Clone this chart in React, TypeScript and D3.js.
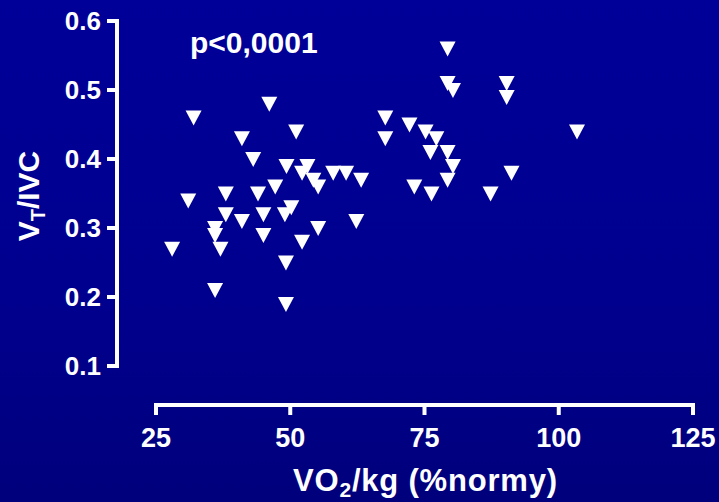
import React from "react";
import * as d3 from "d3";

const W = 719;
const H = 502;

// VO2/kg (%normy) values
const xValues = [
  28, 31, 32, 36, 36, 36, 37, 38, 38, 41, 41, 43.1, 44, 45, 45, 46.1, 47.2,
  49.3, 49, 49.2, 49.2, 50.2, 51.1, 52.2, 52.2, 53.2, 54.3, 55.2, 55.2, 58,
  60.4, 62.3, 63.2, 67.7, 67.7, 72.2, 73.1, 75.2, 76.1, 76.3, 77.2, 79.3,
  79.3, 80.3, 79.3, 80.3, 79.3, 87.3, 90.3, 90.3, 91.2, 103.4,
];
// VT/IVC values
const yValues = [
  0.27, 0.34, 0.46, 0.3, 0.29, 0.21, 0.27, 0.35, 0.32, 0.43, 0.31, 0.4, 0.35,
  0.32, 0.29, 0.48, 0.36, 0.39, 0.32, 0.25, 0.19, 0.33, 0.44, 0.38, 0.28,
  0.39, 0.37, 0.36, 0.3, 0.38, 0.38, 0.31, 0.37, 0.46, 0.43, 0.45, 0.36,
  0.44, 0.41, 0.35, 0.43, 0.56, 0.51, 0.5, 0.41, 0.39, 0.37, 0.35, 0.51,
  0.49, 0.38, 0.44,
];

const xTicks = [25, 50, 75, 100, 125];
const yTicks = [0.1, 0.2, 0.3, 0.4, 0.5, 0.6];
const pLabel = "p<0,0001";

export default function App() {
  const x = d3.scaleLinear().domain([25, 125]).range([156, 693]);
  const y = d3.scaleLinear().domain([0.1, 0.6]).range([366, 21]);
  const font = "'Liberation Sans', Arial, sans-serif";
  const axisX = 117;
  const axisY = 405;
  const tri = (cx: number, cy: number) =>
    `M${cx - 8},${cy - 7}L${cx + 8},${cy - 7}L${cx},${cy + 8}Z`;

  return (
    <svg
      width={W}
      height={H}
      style={{ position: "fixed", left: 0, top: 0, display: "block" }}
      fontFamily={font}
      fontWeight="bold"
    >
      <defs>
        <linearGradient id="bg" x1="0" y1="0" x2="0" y2="1">
          <stop offset="0" stopColor="#000098" />
          <stop offset="0.6" stopColor="#00008e" />
          <stop offset="1" stopColor="#00007c" />
        </linearGradient>
      </defs>
      <rect x={0} y={0} width={W} height={H} fill="url(#bg)" />

      {/* Y axis */}
      <line
        x1={axisX}
        x2={axisX}
        y1={y(0.6) - 2}
        y2={y(0.1) + 2}
        stroke="#fff"
        strokeWidth={4}
      />
      {yTicks.map((t) => (
        <g key={t}>
          <line
            x1={axisX - 10}
            x2={axisX}
            y1={y(t)}
            y2={y(t)}
            stroke="#fff"
            strokeWidth={4}
          />
          <text
            x={101}
            y={y(t)}
            dy="0.36em"
            textAnchor="end"
            fill="#fff"
            fontSize={26}
          >
            {t.toFixed(1)}
          </text>
        </g>
      ))}

      {/* X axis */}
      <line
        x1={x(25) - 2}
        x2={x(125) + 2}
        y1={axisY}
        y2={axisY}
        stroke="#fff"
        strokeWidth={4}
      />
      {xTicks.map((t) => (
        <g key={t}>
          <line
            x1={x(t)}
            x2={x(t)}
            y1={axisY}
            y2={axisY + 10}
            stroke="#fff"
            strokeWidth={4}
          />
          <text
            x={x(t)}
            y={447}
            textAnchor="middle"
            fill="#fff"
            fontSize={27}
          >
            {t}
          </text>
        </g>
      ))}

      {/* Axis titles */}
      <text x={293} y={491} fill="#fff" fontSize={31} letterSpacing={0.8}>
        VO
        <tspan fontSize={21} dy={6}>
          2
        </tspan>
        <tspan dy={-6}>/kg (%normy)</tspan>
      </text>
      <text
        transform="translate(39,196) rotate(-90)"
        textAnchor="middle"
        fill="#fff"
        fontSize={30}
      >
        V
        <tspan fontSize={20} dy={6}>
          T
        </tspan>
        <tspan dy={-6}>/IVC</tspan>
      </text>

      <text x={190} y={53} fill="#fff" fontSize={30}>
        {pLabel}
      </text>

      {/* Points */}
      {xValues.map((xv, i) => (
        <path key={i} d={tri(x(xv), y(yValues[i]))} fill="#fff" />
      ))}
    </svg>
  );
}
